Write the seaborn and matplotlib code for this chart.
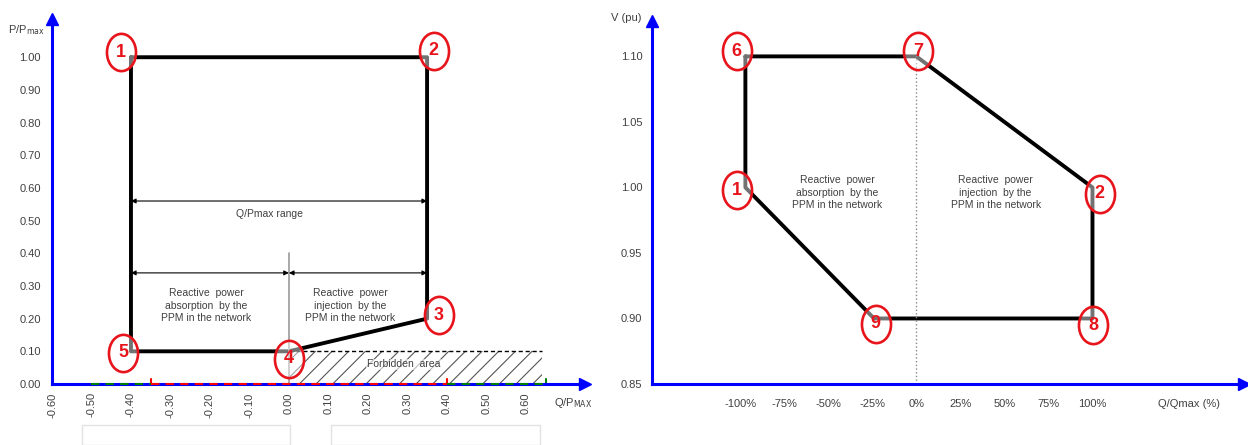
import matplotlib
matplotlib.use('Agg')
import numpy as np
import pandas as pd
import matplotlib.pyplot as plt
import seaborn as sns
from matplotlib.path import Path
from matplotlib.transforms import Affine2D
from matplotlib.patches import Rectangle

# Datos del diagrama P/Pmax - Q/Pmax (izquierda)
pq_labels = ['1', '2', '3', '4', '5']
pq_q = [-0.40, 0.35, 0.35, 0.00, -0.40]
pq_p = [1.00, 1.00, 0.20, 0.10, 0.10]
pq_label_q = [-0.425, 0.367, 0.38, 0.0, -0.42]
pq_label_p = [1.015, 1.02, 0.21, 0.077, 0.095]
pq_xticks = [-0.60, -0.50, -0.40, -0.30, -0.20, -0.10, 0.00, 0.10, 0.20, 0.30, 0.40, 0.50, 0.60]
pq_yticks = [0.00, 0.10, 0.20, 0.30, 0.40, 0.50, 0.60, 0.70, 0.80, 0.90, 1.00]
forbidden_q = [0.0, 0.64]
forbidden_p = 0.10
range_arrow_p = 0.56
split_arrow_p = 0.34
split_line_top = 0.40

# Datos del diagrama V - Q/Qmax (derecha)
vq_labels = ['6', '7', '2', '8', '9', '1']
vq_q = [-97, 0, 100, 100, -24, -97]
vq_v = [1.10, 1.10, 1.00, 0.90, 0.90, 1.00]
vq_label_q = [-102, 1, 104, 100.5, -23, -102]
vq_label_v = [1.104, 1.104, 0.995, 0.895, 0.896, 0.998]
vq_xticks = [-100, -75, -50, -25, 0, 25, 50, 75, 100]
vq_yticks = [0.85, 0.90, 0.95, 1.00, 1.05, 1.10]

sns.set_theme(style='white')
plt.rcParams['font.family'] = ['Liberation Sans Narrow', 'Liberation Sans', 'DejaVu Sans']

W, H = 1248, 445
fig = plt.figure(figsize=(W / 100, H / 100), dpi=100)
ax1 = fig.add_axes([52 / W, 61 / H, 533 / W, 365 / H])
ax2 = fig.add_axes([652 / W, 61 / H, 592 / W, 363 / H])

ellipse = Path(Affine2D().scale(0.78, 1.0).transform(Path.unit_circle().vertices),
               Path.unit_circle().codes)
TXT = '#404040'
RED = '#e8141b'


def style_axes(ax):
    for s in ['top', 'right']:
        ax.spines[s].set_visible(False)
    for s in ['left', 'bottom']:
        ax.spines[s].set_color('blue')
        ax.spines[s].set_linewidth(2.2)
    ax.tick_params(which='both', colors='blue', direction='out', width=1.6,
                   labelcolor=TXT, labelsize=8)
    ax.tick_params(which='major', length=4)
    ax.tick_params(which='minor', length=3)
    ax.plot(1, 0, '>', color='blue', ms=8, transform=ax.transAxes, clip_on=False)
    ax.plot(0, 1, '^', color='blue', ms=8, transform=ax.transAxes, clip_on=False)
    ax.grid(False)


def circles(ax, xs, ys, labels):
    ax.scatter(xs, ys, marker=ellipse, s=720, facecolors=(1, 1, 1, 0.45),
               edgecolors=RED, linewidths=1.9, zorder=5, clip_on=False)
    for x, y, t in zip(xs, ys, labels):
        ax.text(x, y, t, color=RED, fontsize=13, fontweight='bold',
                family=['Liberation Sans', 'DejaVu Sans'],
                ha='center', va='center', zorder=6, clip_on=False)


# ---------- izquierda ----------
df1 = pd.DataFrame({'q': pq_q + pq_q[:1], 'p': pq_p + pq_p[:1]})
sns.lineplot(data=df1, x='q', y='p', sort=False, estimator=None, color='black',
             linewidth=2.8, ax=ax1)
ax1.set_xlim(-0.60, 0.75)
ax1.set_ylim(0, 1.117)
style_axes(ax1)
ax1.set_xticks(pq_xticks)
ax1.set_xticklabels([f'{v:.2f}' for v in pq_xticks], rotation=90)
ax1.set_xticks(np.arange(-0.55, 0.75, 0.1), minor=True)
ax1.set_yticks(pq_yticks)
ax1.set_yticklabels([f'{v:.2f}' for v in pq_yticks])
ax1.set_yticks(np.arange(0.05, 1.1, 0.1), minor=True)
ax1.tick_params(axis='x', pad=2)
ax1.tick_params(axis='y', pad=4)
ax1.set_xlabel('')
ax1.set_ylabel('')

# segmentos de color sobre el eje
ax1.plot([-0.50, -0.35], [0, 0], color='green', lw=1.5, ls=(0, (4, 3)), clip_on=False, zorder=4)
ax1.plot([-0.35, 0.40], [0, 0], color='red', lw=1.5, ls=(0, (4, 3)), clip_on=False, zorder=4)
ax1.plot([0.40, 0.65], [0, 0], color='green', lw=1.5, ls=(0, (4, 3)), clip_on=False, zorder=4)
ax1.plot([-0.35, -0.35], [0, 0.015], color='red', lw=1.5, clip_on=False)
ax1.plot([0.40, 0.40], [0, 0.015], color='red', lw=1.5, clip_on=False)
ax1.plot([0.65, 0.65], [0, 0.015], color='green', lw=1.5, clip_on=False)

# zona prohibida
plt.rcParams['hatch.linewidth'] = 0.8
ax1.fill_between(forbidden_q, 0, forbidden_p, facecolor='none', edgecolor='#555555',
                 hatch='//', linewidth=0)
ax1.plot(forbidden_q, [forbidden_p, forbidden_p], color='black', lw=1, ls=(0, (3, 2)))
ax1.text(0.29, 0.06, 'Forbidden  area', fontsize=7.5, color=TXT, ha='center', va='center',
         bbox=dict(facecolor='white', edgecolor='none', pad=0.5, alpha=0.6))

# flechas de rango
arrow = dict(arrowstyle='<|-|>', color='black', lw=0.8, mutation_scale=7, shrinkA=0, shrinkB=0)
ax1.annotate('', xy=(pq_q[1], range_arrow_p), xytext=(pq_q[0], range_arrow_p), arrowprops=arrow)
ax1.annotate('', xy=(0.0, split_arrow_p), xytext=(pq_q[0], split_arrow_p), arrowprops=arrow)
ax1.annotate('', xy=(pq_q[1], split_arrow_p), xytext=(0.0, split_arrow_p), arrowprops=arrow)
ax1.plot([0, 0], [0, split_line_top], color='#999999', lw=1.2)
ax1.text(-0.05, 0.52, 'Q/Pmax range', fontsize=7.5, color=TXT, ha='center', va='center')
ax1.text(-0.21, 0.24, 'Reactive  power\nabsorption  by the\nPPM in the network',
         fontsize=7.5, color=TXT, ha='center', va='center', linespacing=1.3)
ax1.text(0.155, 0.24, 'Reactive  power\ninjection  by the\nPPM in the network',
         fontsize=7.5, color=TXT, ha='center', va='center', linespacing=1.3)
circles(ax1, pq_label_q, pq_label_p, pq_labels)
fig.text(8 / W, 1 - 30 / H, r'P/P$_{\mathrm{max}}$', fontsize=8, color=TXT, ha='left', va='center')
ax1.text(0.72, -0.057, r'Q/P$_{\mathrm{MAX}}$', fontsize=8, color=TXT, ha='center', va='center',
         clip_on=False)

# ---------- derecha ----------
df2 = pd.DataFrame({'q': vq_q + vq_q[:1], 'v': vq_v + vq_v[:1]})
sns.lineplot(data=df2, x='q', y='v', sort=False, estimator=None, color='black',
             linewidth=2.8, ax=ax2)
ax2.set_xlim(-150, 186)
ax2.set_ylim(0.85, 1.127)
style_axes(ax2)
ax2.set_xticks(vq_xticks)
ax2.set_xticklabels([f'{v}%' for v in vq_xticks])
ax2.set_xticks([v for v in np.arange(-150, 180, 12.5) if v not in vq_xticks], minor=True)
ax2.set_yticks(vq_yticks)
ax2.set_yticklabels([f'{v:.2f}' for v in vq_yticks])
ax2.set_yticks(np.arange(0.875, 1.1, 0.05), minor=True)
ax2.tick_params(which='both', axis='x', length=4)
ax2.tick_params(axis='x', pad=7)
ax2.tick_params(axis='y', pad=3)
ax2.set_xlabel('')
ax2.set_ylabel('')
ax2.plot([0, 0], [0.85, 1.10], color='#888888', lw=1, ls=':')
ax2.text(-45, 0.996, 'Reactive  power\nabsorption  by the\nPPM in the network',
         fontsize=7.5, color=TXT, ha='center', va='center', linespacing=1.3)
ax2.text(45, 0.996, 'Reactive  power\ninjection  by the\nPPM in the network',
         fontsize=7.5, color=TXT, ha='center', va='center', linespacing=1.3)
circles(ax2, vq_label_q, vq_label_v, vq_labels)
ax2.text(155, 0.835, 'Q/Qmax (%)', fontsize=8, color=TXT, ha='center', va='center', clip_on=False)
fig.text(626 / W, 1 - 18 / H, 'V (pu)', fontsize=8, color=TXT, ha='center', va='center')

# recuadros grises de fondo
for x0, x1 in [(82, 290), (331, 540)]:
    fig.add_artist(Rectangle((x0 / W, 0), (x1 - x0) / W, 20 / H, transform=fig.transFigure,
                             facecolor='none', edgecolor='#e2e2e2', lw=1))

fig.savefig('out.png', dpi=100)
